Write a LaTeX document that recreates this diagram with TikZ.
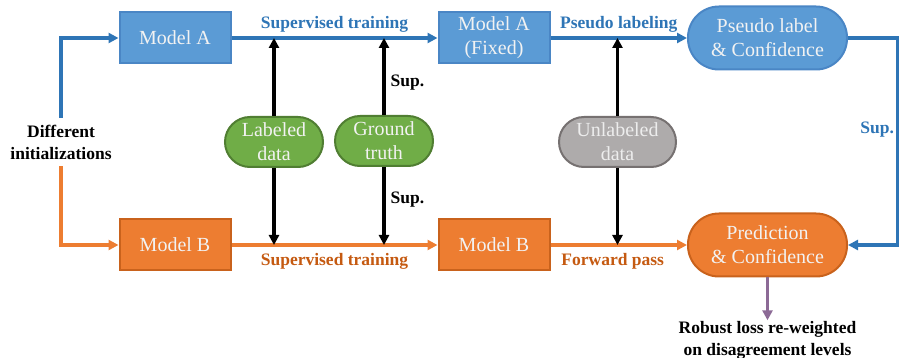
\documentclass[tikz,border=0pt]{standalone}
\usepackage{fontspec}
\setmainfont{Liberation Serif}
\usetikzlibrary{arrows.meta,calc}
\definecolor{bfill}{HTML}{5B9BD5}
\definecolor{bdraw}{HTML}{4A86C5}
\definecolor{bline}{HTML}{2E75B6}
\definecolor{ofill}{HTML}{ED7D31}
\definecolor{odraw}{HTML}{C9621C}
\definecolor{otext}{HTML}{C55A11}
\definecolor{gfill}{HTML}{70AD47}
\definecolor{gdraw}{HTML}{507E32}
\definecolor{yfill}{HTML}{AEABAB}
\definecolor{ydraw}{HTML}{767171}
\definecolor{ytext}{HTML}{EDEDED}
\definecolor{purp}{HTML}{8C6A96}
\tikzset{
  boxtext/.style={font=\fontsize{20}{24}\selectfont, text=white!95!black, align=center, inner sep=0pt},
  bluebox/.style={boxtext, rectangle, fill=bfill, draw=bdraw, line width=2pt, minimum width=111pt, minimum height=51pt},
  orangebox/.style={boxtext, rectangle, fill=ofill, draw=odraw, line width=2pt, minimum width=111pt, minimum height=51pt},
  pill/.style={boxtext, rectangle, rounded corners=25pt, line width=2pt, minimum width=98pt, minimum height=50pt},
  bigpill/.style={boxtext, rectangle, rounded corners=31pt, line width=2pt, minimum width=159pt, minimum height=63pt},
  lbl/.style={font=\fontsize{17.5}{22}\selectfont\bfseries, align=center, inner sep=1pt},
  tip/.style={-{Triangle[length=10pt,width=10pt]}},
  bluearr/.style={tip, draw=bline, line width=3.2pt},
  orangearr/.style={tip, draw=ofill, line width=3.2pt},
  blackarr/.style={tip, draw=black, line width=3.2pt},
}
\begin{document}
\begin{tikzpicture}[x=1pt,y=-1pt]
\useasboundingbox (0,0) rectangle (900,358);
\node[lbl, minimum height=48pt] (init) at (61,142) {Different\\initializations};
\node[bluebox] (ma) at (175,38) {Model A};
\node[orangebox] (mb) at (175,245) {Model B};
\node[bluebox] (maf) at (494,38) {Model A\\(Fixed)};
\node[orangebox] (mb2) at (494,245) {Model B};
\node[pill, fill=gfill, draw=gdraw] (ld) at (274,142) {Labeled\\data};
\node[pill, fill=gfill, draw=gdraw] (gt) at (384,141) {Ground\\truth};
\node[pill, fill=yfill, draw=ydraw, text=ytext, minimum width=117pt] (ud) at (617.5,142) {Unlabeled\\data};
\node[bigpill, fill=bfill, draw=bdraw] (pl) at (767.5,38) {Pseudo label\\\& Confidence};
\node[bigpill, fill=ofill, draw=odraw] (pc) at (767.5,245) {Prediction\\\& Confidence};
\node[lbl, text=black] (rl) at (767.5,340.5) {Robust loss re-weighted\\on disagreement levels};

\draw[bluearr] (init.north) |- (ma.west);
\draw[orangearr] (init.south) |- (mb.west);
\draw[bluearr] (ma.east) -- node[lbl, above=3pt, text=bline]{Supervised training} (maf.west);
\draw[orangearr] (mb.east) -- node[lbl, below=6pt, text=otext]{Supervised training} (mb2.west);
\draw[bluearr] (maf.east) -- node[lbl, above=3pt, text=bline]{Pseudo labeling} (pl.west);
\draw[orangearr] (mb2.east) -- node[lbl, below=6pt, xshift=-6pt, text=otext]{Forward pass} (pc.west);

\draw[blackarr] (ld.north) -- (ld.north |- ma.east);
\draw[blackarr] (ld.south) -- (ld.south |- mb.east);
\draw[blackarr] (gt.north) -- node[lbl, right=4pt, pos=0.42]{Sup.} (gt.north |- ma.east);
\draw[blackarr] (gt.south) -- node[lbl, right=4pt, pos=0.42]{Sup.} (gt.south |- mb.east);
\draw[blackarr] (ud.north) -- (ud.north |- maf.east);
\draw[blackarr] (ud.south) -- (ud.south |- mb2.east);

\draw[bluearr] (pl.east) -- ++(49.5,0) |- node[lbl, pos=0.22, left=1pt, text=bline]{Sup.} (pc.east);
\draw[tip, draw=purp, line width=3.2pt] (pc.south) -- (rl.north);
\end{tikzpicture}
\end{document}
